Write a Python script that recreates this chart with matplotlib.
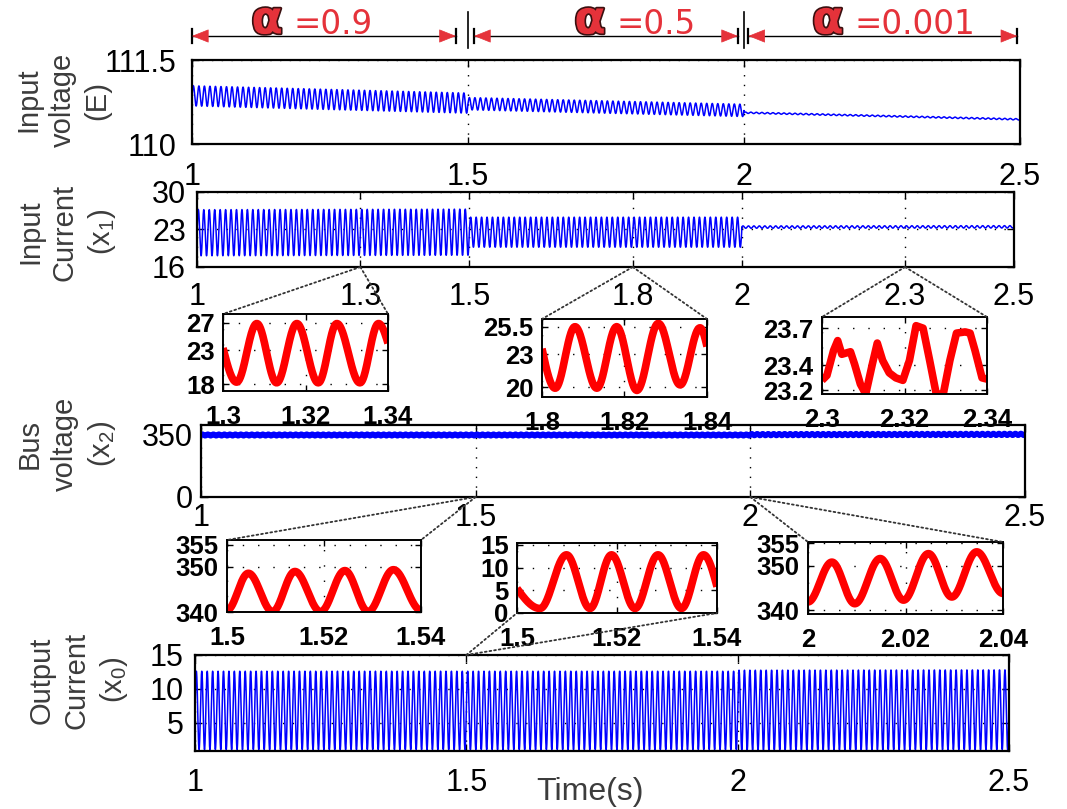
import numpy as np
import matplotlib
matplotlib.use("Agg")
import matplotlib.pyplot as plt
from matplotlib.patches import ConnectionPatch, FancyArrowPatch
from matplotlib.transforms import blended_transform_factory
import matplotlib.patheffects as pe

plt.rcParams['font.family'] = ['Liberation Sans', 'DejaVu Sans']
plt.rcParams['mathtext.default'] = 'regular'

# ---------------- data ----------------
seg_edges = [1.0, 1.5, 2.0, 2.5]
alpha_texts = ['=0.9', '=0.5', '=0.001']
carrier_hz = 100.0

main_xticks = [1, 1.5, 2, 2.5]
main_xticklabels = ['1', '1.5', '2', '2.5']
iin_xticks = [1, 1.3, 1.5, 1.8, 2, 2.3, 2.5]
iin_xticklabels = ['1', '1.3', '1.5', '1.8', '2', '2.3', '2.5']

vin_yticks = [110, 111.5]
vin_yticklabels = ['110', '111.5']
iin_yticks = [16, 23, 30]
iin_yticklabels = ['16', '23', '30']
vbus_yticks = [0, 350]
vbus_yticklabels = ['0', '350']
iout_yticks = [5, 10, 15]
iout_yticklabels = ['5', '10', '15']

# input voltage envelope per alpha segment
vin_mean_start = [110.86, 110.72, 110.56]
vin_mean_end = [110.73, 110.60, 110.44]
vin_amp = [0.18, 0.11, 0.012]
# input current envelope per segment
iin_mean_start = [22.4, 22.5, 23.45]
iin_mean_end = [22.5, 22.5, 23.5]
iin_amp = [4.3, 2.8, 0.22]
# bus voltage envelope per segment
vbus_mean_start = [344.5, 344.5, 346.5]
vbus_mean_end = [344.5, 344.5, 348.0]
vbus_amp = [4.5, 4.5, 5.0]
# output current envelope per segment
iout_mean_start = [6.8, 6.8, 6.85]
iout_mean_end = [6.8, 6.8, 6.9]
iout_amp = [5.8, 5.8, 5.9]

# zoomed insets: read points (time, value)
insetA_t = [1.3000, 1.3033, 1.3082, 1.3130, 1.3179, 1.3231, 1.3276, 1.3332, 1.3377, 1.3400]
insetA_v = [23.3, 18.3, 26.9, 18.2, 26.9, 18.2, 26.9, 18.2, 26.9, 24.0]
insetB_t = [1.8000, 1.8032, 1.8080, 1.8133, 1.8181, 1.8230, 1.8282, 1.8335, 1.8383, 1.8400]
insetB_v = [23.5, 19.9, 25.5, 19.9, 25.5, 19.7, 25.8, 20.2, 25.4, 23.7]
insetC_t = [2.3000, 2.3012, 2.3028, 2.3038, 2.3048, 2.3069, 2.3079, 2.3093, 2.3106, 2.3122,
            2.3134, 2.3147, 2.3163, 2.3179, 2.3196, 2.3212, 2.3228, 2.3245, 2.3261, 2.3277,
            2.3294, 2.3310, 2.3326, 2.3347, 2.3359, 2.3371, 2.3388, 2.3400]
insetC_v = [23.28, 23.32, 23.52, 23.60, 23.49, 23.51, 23.41, 23.25, 23.17, 23.41,
            23.58, 23.44, 23.34, 23.30, 23.28, 23.44, 23.72, 23.70, 23.44, 23.17,
            23.17, 23.44, 23.66, 23.67, 23.66, 23.52, 23.30, 23.29]
insetD_t = [1.5000, 1.5044, 1.5094, 1.5140, 1.5193, 1.5243, 1.5291, 1.5343, 1.5400]
insetD_v = [340.4, 348.6, 340.1, 349.0, 340.1, 349.2, 340.1, 349.4, 340.4]
insetE_t = [1.5000, 1.5046, 1.5099, 1.5146, 1.5189, 1.5236, 1.5282, 1.5329, 1.5373, 1.5400]
insetE_v = [5.4, 1.0, 12.8, 1.0, 12.8, 1.0, 12.8, 1.0, 12.8, 5.8]
insetF_t = [2.0000, 2.0049, 2.0096, 2.0148, 2.0196, 2.0247, 2.0295, 2.0346, 2.0400]
insetF_v = [341.9, 350.8, 341.5, 351.6, 342.3, 352.7, 343.0, 353.1, 343.8]

insetA_xticks = [1.3, 1.32, 1.34]; insetA_xticklabels = ['1.3', '1.32', '1.34']
insetA_yticks = [18, 23, 27]; insetA_yticklabels = ['18', '23', '27']
insetB_xticks = [1.8, 1.82, 1.84]; insetB_xticklabels = ['1.8', '1.82', '1.84']
insetB_yticks = [20, 23, 25.5]; insetB_yticklabels = ['20', '23', '25.5']
insetC_xticks = [2.3, 2.32, 2.34]; insetC_xticklabels = ['2.3', '2.32', '2.34']
insetC_yticks = [23.2, 23.4, 23.7]; insetC_yticklabels = ['23.2', '23.4', '23.7']
insetD_xticks = [1.5, 1.52, 1.54]; insetD_xticklabels = ['1.5', '1.52', '1.54']
insetD_yticks = [340, 350, 355]; insetD_yticklabels = ['340', '350', '355']
insetE_xticks = [1.5, 1.52, 1.54]; insetE_xticklabels = ['1.5', '1.52', '1.54']
insetE_yticks = [0, 5, 10, 15]; insetE_yticklabels = ['0', '5', '10', '15']
insetF_xticks = [2.0, 2.02, 2.04]; insetF_xticklabels = ['2', '2.02', '2.04']
insetF_yticks = [340, 350, 355]; insetF_yticklabels = ['340', '350', '355']

# ---------------- helpers ----------------
W, H = 1067, 809
fig = plt.figure(figsize=(W / 100, H / 100), dpi=100)
fig.patch.set_facecolor('white')
BLUE = '#0000ff'
RED = '#ff0000'
ARED = '#e5323a'
GRAY = '#3c3c3c'


def px_rect(l, t, r, b):
    return [l / W, 1 - b / H, (r - l) / W, (b - t) / H]


tt = np.linspace(1.0, 2.5, 60001)


def segmented(ms, me, amp):
    y = np.empty_like(tt)
    for i in range(3):
        a, b = seg_edges[i], seg_edges[i + 1]
        m = (tt >= a) & ((tt < b) if i < 2 else (tt <= b))
        frac = (tt[m] - a) / (b - a)
        y[m] = ms[i] + (me[i] - ms[i]) * frac + amp[i] * np.sin(2 * np.pi * carrier_hz * (tt[m] - 1.0))
    return y


def wave(ts, vs, first_partial=False, last_partial=False, n=60):
    xs, ys = [], []
    for i in range(len(ts) - 1):
        s = np.linspace(0, 1, n)
        if i == 0 and first_partial:
            shape = np.sin(np.pi / 2 * s)
        elif i == len(ts) - 2 and last_partial:
            shape = 1 - np.cos(np.pi / 2 * s)
        else:
            shape = (1 - np.cos(np.pi * s)) / 2
        xs.append(ts[i] + (ts[i + 1] - ts[i]) * s)
        ys.append(vs[i] + (vs[i + 1] - vs[i]) * shape)
    return np.concatenate(xs), np.concatenate(ys)


GRID_LS = (0, (1, 6))


def style_main(ax, xticks, xlabels, yticks, ylabels, ylim, xpad=12, ypad=8):
    ax.set_xlim(1, 2.5)
    ax.set_ylim(*ylim)
    ax.set_xticks(xticks)
    ax.set_xticklabels(xlabels)
    ax.set_yticks(yticks)
    ax.set_yticklabels(ylabels)
    ax.tick_params(direction='in', length=5, width=1, top=True, right=True,
                   labelsize=22, colors='black')
    ax.tick_params(axis='x', pad=xpad)
    ax.tick_params(axis='y', pad=ypad)
    ax.grid(True, linestyle=GRID_LS, color='black', lw=1.0)
    for s in ax.spines.values():
        s.set_linewidth(1.6)


def style_inset(ax, xlim, ylim, xticks, xlabels, yticks, ylabels):
    ax.set_xlim(*xlim)
    ax.set_ylim(*ylim)
    ax.set_xticks(xticks)
    ax.set_xticklabels(xlabels)
    ax.set_yticks(yticks)
    ax.set_yticklabels(ylabels)
    ax.tick_params(direction='in', length=4, width=1, top=True, right=True,
                   labelsize=18.5)
    ax.tick_params(axis='x', pad=10)
    ax.tick_params(axis='y', pad=6)
    for lab in ax.get_xticklabels() + ax.get_yticklabels():
        lab.set_fontweight('bold')
    ax.grid(True, linestyle=(0, (1, 10)), color='black', lw=1.0)
    for s in ax.spines.values():
        s.set_linewidth(1.4)


# ---------------- main axes ----------------
ax1 = fig.add_axes(px_rect(192, 60, 1020, 144))
ax2 = fig.add_axes(px_rect(197, 192, 1014, 267))
ax3 = fig.add_axes(px_rect(201, 425, 1025, 497))
ax4 = fig.add_axes(px_rect(195, 655, 1009, 751))
for a in (ax1, ax2, ax3, ax4):
    a.set_zorder(1)

ax1.plot(tt, segmented(vin_mean_start, vin_mean_end, vin_amp), color=BLUE, lw=1.1)
style_main(ax1, main_xticks, main_xticklabels, vin_yticks, vin_yticklabels, (110, 111.5),
           xpad=13, ypad=11)

ax2.plot(tt, segmented(iin_mean_start, iin_mean_end, iin_amp), color=BLUE, lw=1.1)
style_main(ax2, iin_xticks, iin_xticklabels, iin_yticks, iin_yticklabels, (16, 30),
           xpad=11, ypad=8)

ax3.plot(tt, segmented(vbus_mean_start, vbus_mean_end, vbus_amp), color=BLUE, lw=4)
style_main(ax3, main_xticks, main_xticklabels, vbus_yticks, vbus_yticklabels, (0, 400),
           xpad=4, ypad=6)

ax4.plot(tt, segmented(iout_mean_start, iout_mean_end, iout_amp), color=BLUE, lw=1.1)
style_main(ax4, main_xticks, main_xticklabels, iout_yticks, iout_yticklabels, (0.8, 15),
           xpad=12, ypad=8)

# ---------------- insets ----------------
axA = fig.add_axes(px_rect(223, 314, 388, 391))
axB = fig.add_axes(px_rect(542, 319, 707, 397))
axC = fig.add_axes(px_rect(822, 317, 987, 394))
axD = fig.add_axes(px_rect(227, 540, 421, 612))
axE = fig.add_axes(px_rect(517, 543, 717, 613))
axF = fig.add_axes(px_rect(808, 542, 1003, 614))
for a in (axA, axB, axC, axD, axE, axF):
    a.set_zorder(3)

RLW = 5.5
x, y = wave(insetA_t, insetA_v, True, True)
axA.plot(x, y, color=RED, lw=RLW, solid_capstyle='butt')
style_inset(axA, (1.3, 1.34), (17.0, 28.3), insetA_xticks, insetA_xticklabels,
            insetA_yticks, insetA_yticklabels)

x, y = wave(insetB_t, insetB_v, True, True)
axB.plot(x, y, color=RED, lw=RLW, solid_capstyle='butt')
style_inset(axB, (1.8, 1.84), (19.1, 26.2), insetB_xticks, insetB_xticklabels,
            insetB_yticks, insetB_yticklabels)

axC.plot(insetC_t, insetC_v, color=RED, lw=RLW, solid_joinstyle='round', solid_capstyle='butt')
style_inset(axC, (2.3, 2.34), (23.17, 23.79), insetC_xticks, insetC_xticklabels,
            insetC_yticks, insetC_yticklabels)

x, y = wave(insetD_t, insetD_v)
axD.plot(x, y, color=RED, lw=RLW, solid_capstyle='butt')
style_inset(axD, (1.5, 1.54), (340, 356.0), insetD_xticks, insetD_xticklabels,
            insetD_yticks, insetD_yticklabels)

x, y = wave(insetE_t, insetE_v, True, True)
axE.plot(x, y, color=RED, lw=RLW, solid_capstyle='butt')
style_inset(axE, (1.5, 1.54), (0.4, 15.4), insetE_xticks, insetE_xticklabels,
            insetE_yticks, insetE_yticklabels)

x, y = wave(insetF_t, insetF_v)
axF.plot(x, y, color=RED, lw=RLW, solid_capstyle='butt')
style_inset(axF, (2.0, 2.04), (339.2, 355.3), insetF_xticks, insetF_xticklabels,
            insetF_yticks, insetF_yticklabels)

# ---------------- zoom connectors ----------------
def connect(ax_main, pt, ax_in, corners):
    for c in corners:
        con = ConnectionPatch(xyA=pt, coordsA=ax_main.transData, xyB=c,
                              coordsB=ax_in.transAxes, linestyle=(0, (1, 1.6)),
                              color='#333333', lw=1.3, zorder=5)
        fig.add_artist(con)


connect(ax2, (1.3, 16), axA, [(0, 1), (1, 1)])
connect(ax2, (1.8, 16), axB, [(0, 1), (1, 1)])
connect(ax2, (2.3, 16), axC, [(0, 1), (1, 1)])
connect(ax3, (1.5, 0), axD, [(0, 1), (1, 1)])
connect(ax3, (2.0, 0), axF, [(0, 1), (1, 1)])
connect(ax4, (1.5, 15), axE, [(0, 0), (1, 0)])

# ---------------- alpha annotations ----------------
trans = blended_transform_factory(ax1.transData, fig.transFigure)
y_arr = 1 - 36 / H
bar_h = 7 / H
separators = [1.5, 2.0]
for sx in separators:
    ax1.plot([sx, sx], [1 - 12 / H, 1 - 48 / H], transform=trans, color='black',
             lw=1.2, clip_on=False)

arrow_spans = [(1.0, 1.478), (1.511, 1.989), (2.008, 2.495)]
alpha_sym_x = [1.136, 1.721, 2.152]
alpha_txt_x = [1.184, 1.769, 2.200]
for (a, b), ax_, tx_, txt in zip(arrow_spans, alpha_sym_x, alpha_txt_x, alpha_texts):
    ax1.plot([a, b], [y_arr, y_arr], transform=trans, color='black', lw=1.0, clip_on=False)
    for e in (a, b):
        ax1.plot([e, e], [y_arr - bar_h, y_arr + bar_h], transform=trans,
                 color='black', lw=1.6, clip_on=False)
    dl = 0.026
    for tip, tail in ((a, a + dl), (b, b - dl)):
        arr = FancyArrowPatch((tail, y_arr), (tip, y_arr), transform=trans,
                              arrowstyle='-|>,head_length=0.55,head_width=0.22',
                              mutation_scale=20, color=ARED, lw=0.5,
                              shrinkA=0, shrinkB=0, zorder=6)
        fig.add_artist(arr)
    ax1.text(ax_, 1 - 21 / H, 'α', transform=trans, fontsize=33, fontweight='bold',
             color=ARED, ha='center', va='center', family='DejaVu Sans',
             path_effects=[pe.withStroke(linewidth=2.4, foreground='#3a1010')])
    ax1.text(tx_, 1 - 24 / H, txt, transform=trans, fontsize=23.5, color=ARED,
             ha='left', va='center', family='DejaVu Sans')

# ---------------- axis titles ----------------
ylab_kw = dict(rotation=90, ha='center', va='center', multialignment='center',
               fontsize=21, color=GRAY, linespacing=1.3)
fig.text(63 / W, 1 - 100 / H, 'Input\nvoltage\n(E)', **ylab_kw)
fig.text(67 / W, 1 - 232 / H, 'Input\nCurrent\n(x$_1$)', **ylab_kw)
fig.text(67 / W, 1 - 444 / H, 'Bus\nvoltage\n(x$_2$)', **ylab_kw)
fig.text(79 / W, 1 - 680 / H, 'Output\nCurrent\n(x$_0$)', **ylab_kw)
fig.text(590 / W, 1 - 792 / H, 'Time(s)', fontsize=23, color=GRAY, ha='center', va='center')

fig.savefig('out.png', dpi=100, facecolor='white')
